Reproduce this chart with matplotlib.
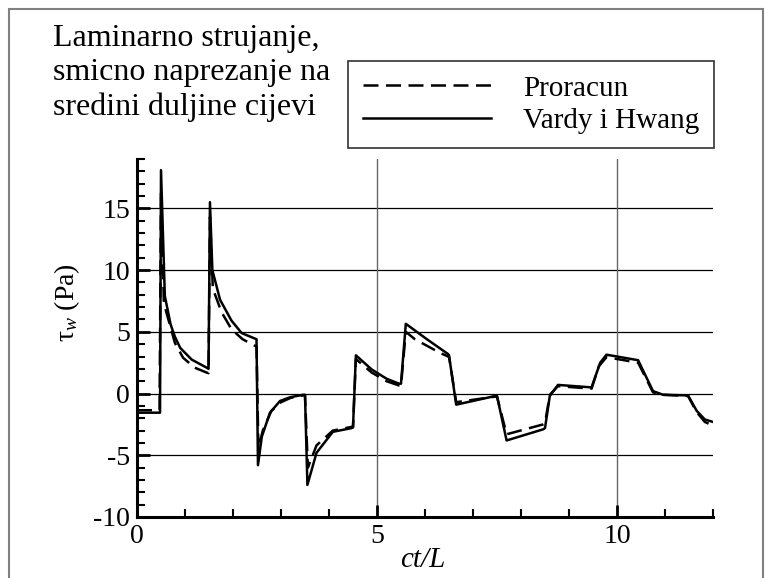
import matplotlib
matplotlib.use("Agg")
import matplotlib.pyplot as plt
from matplotlib.patches import Rectangle
from matplotlib.ticker import MultipleLocator

plt.rcParams["font.family"] = ["Liberation Serif", "DejaVu Serif"]
plt.rcParams["mathtext.fontset"] = "custom"
plt.rcParams["mathtext.rm"] = "Liberation Serif"
plt.rcParams["mathtext.it"] = "Liberation Serif:italic"
plt.rcParams["axes.unicode_minus"] = False

# Vardy i Hwang (solid)
x_vh = [0.0, 0.48, 0.5, 0.58, 0.7, 0.79, 0.9, 1.14, 1.45, 1.49, 1.52, 1.57, 1.73,
        1.97, 2.18, 2.49, 2.52, 2.6, 2.77, 2.98, 3.19, 3.46, 3.5, 3.55, 3.74, 4.08,
        4.47, 4.5, 4.56, 4.89, 5.2, 5.46, 5.5, 5.6, 6.04, 6.48, 6.5, 6.65, 7.46,
        7.5, 7.7, 8.46, 8.5, 8.6, 8.77, 9.47, 9.65, 9.78, 10.44, 10.75, 10.96,
        11.48, 11.66, 11.83, 12.0]
y_vh = [-1.55, -1.55, 18.1, 7.9, 5.6, 4.6, 3.7, 2.75, 2.1, 2.0, 15.5, 10.0, 7.6,
        5.9, 4.9, 4.4, -5.8, -3.5, -1.55, -0.6, -0.3, -0.1, -0.1, -7.4, -4.8, -3.1,
        -2.8, -2.75, 3.1, 1.95, 1.2, 0.8, 0.8, 5.65, 4.4, 3.2, 3.1, -0.9, -0.2,
        -0.2, -3.8, -2.9, -2.8, -0.2, 0.7, 0.5, 2.5, 3.15, 2.7, 0.2, -0.1,
        -0.15, -1.4, -2.1, -2.3]

# Proracun (dashed)
x_pr = [0.0, 0.47, 0.5, 0.56, 0.79, 0.96, 1.2, 1.45, 1.49, 1.52, 1.58, 1.76, 1.97,
        2.2, 2.49, 2.53, 2.62, 2.8, 3.0, 3.2, 3.46, 3.5, 3.56, 3.74, 4.08, 4.47,
        4.5, 4.56, 4.89, 5.2, 5.46, 5.5, 5.6, 5.79, 6.31, 6.48, 6.5, 6.65, 7.46,
        7.5, 7.7, 8.46, 8.5, 8.6, 8.77, 9.47, 9.62, 9.78, 10.44, 10.75, 10.96,
        11.48, 11.66, 11.83, 12.0]
y_pr = [-1.35, -1.35, 16.4, 7.3, 4.1, 2.9, 2.1, 1.7, 1.65, 14.3, 8.5, 6.6, 5.2,
        4.4, 3.8, -4.5, -3.0, -1.4, -0.7, -0.35, -0.15, -0.15, -6.0, -4.2, -3.0, -2.7,
        -2.7, 2.8, 1.7, 1.0, 0.65, 0.65, 5.0, 4.4, 3.3, 3.0, 3.0, -0.7, -0.25,
        -0.25, -3.3, -2.5, -2.4, -0.1, 0.6, 0.4, 2.2, 2.95, 2.5, 0.1, -0.1,
        -0.2, -1.5, -2.3, -2.6]

x_ticks = [0, 5, 10]
y_ticks = [-10, -5, 0, 5, 10, 15]

fig = plt.figure(figsize=(7.65, 5.78), dpi=100)
ax = fig.add_axes([137 / 765, 61 / 578, 576 / 765, 358 / 578])

ax.plot(x_pr, y_pr, color="black", lw=1.8, linestyle=(0, (6, 3)), label="Proracun", zorder=3)
ax.plot(x_vh, y_vh, color="black", lw=1.8, label="Vardy i Hwang", zorder=4)

ax.set_xlim(0, 12)
ax.set_ylim(-10, 19)
ax.set_xticks(x_ticks)
ax.set_yticks(y_ticks)
ax.xaxis.set_minor_locator(MultipleLocator(1))
ax.yaxis.set_minor_locator(MultipleLocator(1))
ax.tick_params(which="major", direction="in", length=9, width=2, labelsize=20, pad=5)
ax.tick_params(which="minor", direction="in", length=5.5, width=1.5)

for v in y_ticks[1:]:
    ax.axhline(v, color="black", lw=0.9, zorder=1)
for v in x_ticks[1:]:
    ax.axvline(v, color="#666666", lw=1.0, zorder=1)

for side in ("top", "right"):
    ax.spines[side].set_visible(False)
for side in ("left", "bottom"):
    ax.spines[side].set_linewidth(2.2)

ax.set_xlabel("ct/L", fontsize=21, fontstyle="italic", labelpad=0)
ax.xaxis.set_label_coords(0.497, -0.085)
ax.xaxis.label.set_va("top")
ax.set_ylabel(r"$\mathrm{\tau}_{w}$ (Pa)", fontsize=20)
ax.yaxis.set_label_coords(-0.095, 0.6)

fig.text(53 / 765, 1 - 24 / 578,
         "Laminarno strujanje,\nsmicno naprezanje na\nsredini duljine cijevi",
         fontsize=23, va="top", ha="left", linespacing=1.24)

leg = fig.legend(loc="center", bbox_to_anchor=(347 / 765, 1 - 148 / 578, 368 / 765, 87 / 578),
                 fontsize=21, frameon=True, fancybox=False, handlelength=4.4,
                 handletextpad=1.1, labelspacing=0.2, borderpad=0.5,
                 borderaxespad=0, edgecolor="black")
leg.get_frame().set_linewidth(1.2)

fig.patches.append(Rectangle((9 / 765, -0.05), 754 / 765, 1.05 - 9 / 578,
                             transform=fig.transFigure, fill=False,
                             edgecolor="#808080", lw=1.5))

fig.savefig("out.png", dpi=100)
